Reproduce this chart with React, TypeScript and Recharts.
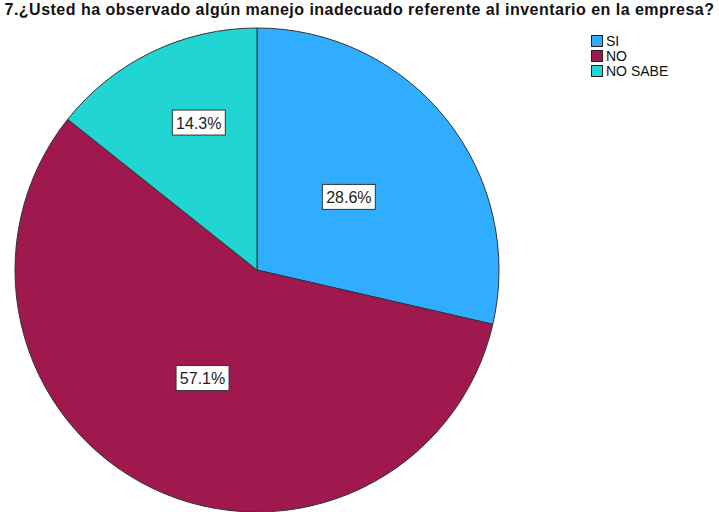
import React from "react";
import { PieChart, Pie, Cell, Legend } from "recharts";

const categories = ["SI", "NO", "NO SABE"];
const values = [28.6, 57.1, 14.3];
const percentLabels = ["28.6%", "57.1%", "14.3%"];
const colors = ["#31adff", "#9f184e", "#21d5d2"];
const labelRadiusFactor = [0.485, 0.5, 0.655];
const labelAngleShift = [0, -1, -4.2];

const data = categories.map((name, i) => ({ name, value: values[i] }));

const RAD = Math.PI / 180;

const renderLabel = (props: any) => {
  const { cx, cy, midAngle, outerRadius, index } = props;
  const r = outerRadius * labelRadiusFactor[index];
  const a = midAngle + labelAngleShift[index];
  const x = cx + r * Math.cos(-a * RAD);
  const y = cy + r * Math.sin(-a * RAD);
  const text = percentLabels[index];
  const w = 53;
  const h = 25;
  return (
    <g key={"lbl" + index}>
      <rect x={x - w / 2} y={y - h / 2} width={w} height={h} fill="#ffffff" stroke="#333" strokeWidth={1} />
      <text x={x} y={y + 6} textAnchor="middle" fontSize={16} fontFamily="Liberation Sans, Arial, sans-serif" fill="#222">
        {text}
      </text>
    </g>
  );
};

const LegendContent = () => (
  <div style={{ fontFamily: "Liberation Sans, Arial, sans-serif", fontSize: 14, color: "#111" }}>
    {categories.map((c, i) => (
      <div key={c} style={{ display: "flex", alignItems: "center", height: 15 }}>
        <span style={{ display: "inline-block", width: 10, height: 10, background: colors[i], border: "1px solid #222", marginRight: 3 }} />
        <span>{c}</span>
      </div>
    ))}
  </div>
);

export default function App() {
  return (
    <div style={{ position: "absolute", left: 0, top: 0, width: 719, height: 512, background: "#fff", overflow: "hidden" }}>
      <div
        style={{
          position: "absolute",
          left: 0,
          top: 1,
          width: 719,
          textAlign: "center",
          fontFamily: "Liberation Sans, Arial, sans-serif",
          fontWeight: "bold",
          fontSize: 16,
          letterSpacing: 0.48,
          color: "#111",
          whiteSpace: "nowrap",
          zIndex: 2,
        }}
      >
        7.¿Usted ha observado algún manejo inadecuado referente al inventario en la empresa?
      </div>
      <PieChart width={719} height={512} margin={{ top: 0, right: 0, bottom: 0, left: 0 }}>
        <Pie
          data={data}
          dataKey="value"
          nameKey="name"
          cx={257}
          cy={270}
          outerRadius={242}
          startAngle={90}
          endAngle={-270}
          stroke="#333"
          strokeWidth={1}
          label={renderLabel}
          labelLine={false}
          isAnimationActive={false}
        >
          {data.map((d, i) => (
            <Cell key={d.name} fill={colors[i]} />
          ))}
        </Pie>
        <Legend
          content={<LegendContent />}
          layout="vertical"
          verticalAlign="top"
          align="right"
          wrapperStyle={{ position: "absolute", left: 591, top: 33, width: 120 }}
        />
      </PieChart>
    </div>
  );
}
